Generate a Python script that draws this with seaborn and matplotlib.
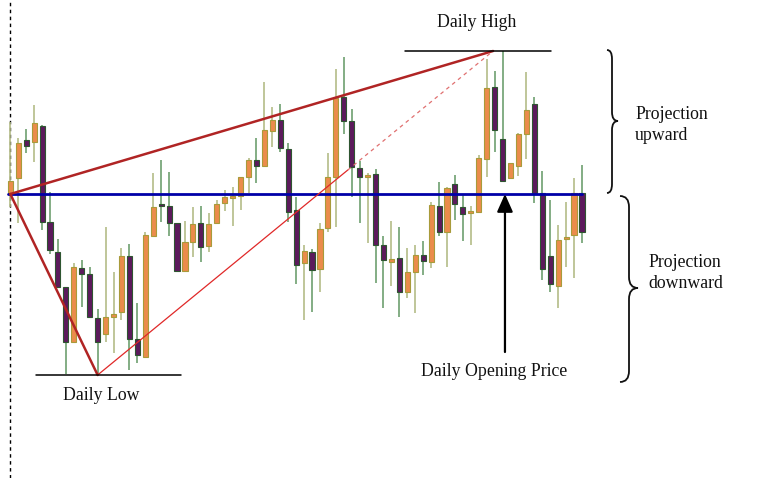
import numpy as np
import pandas as pd
import matplotlib
matplotlib.use("Agg")
import matplotlib.pyplot as plt
from matplotlib.path import Path
from matplotlib.patches import PathPatch
import seaborn as sns

# ---------------- data (price units) ----------------
opens = [206, 222, 260, 258, 274, 178, 148, 113, 58, 132, 126, 82, 66, 83, 88, 144, 61, 43,
         164, 195, 194, 177, 129, 158, 177, 154, 177, 197, 202, 204, 223, 240, 234, 269, 280,
         251, 190, 137, 148, 131, 172, 223, 303, 279, 232, 223, 226, 155, 138, 142, 108, 128,
         145, 138, 194, 168, 216, 193, 187, 188, 241, 313, 261, 222, 234, 266, 296, 207, 144,
         114, 161, 165, 207]
highs = [278, 262, 271, 295, 275, 208, 161, 113, 137, 140, 133, 91, 173, 128, 152, 156, 97, 168,
         227, 240, 228, 177, 179, 193, 194, 187, 200, 210, 213, 223, 242, 262, 318, 293, 296,
         257, 203, 155, 151, 177, 247, 331, 343, 291, 239, 227, 231, 164, 179, 173, 152, 155,
         159, 198, 218, 213, 225, 205, 194, 245, 341, 329, 349, 237, 267, 328, 303, 229, 200,
         175, 198, 222, 235]
lows = [193, 177, 247, 238, 170, 146, 113, 26, 58, 93, 83, 25, 58, 47, 80, 30, 37, 43,
        163, 178, 164, 128, 128, 143, 138, 148, 177, 189, 174, 190, 207, 217, 234, 253, 248,
        178, 116, 80, 88, 108, 168, 173, 266, 203, 177, 157, 117, 92, 114, 83, 102, 87,
        125, 132, 164, 133, 180, 159, 155, 188, 223, 248, 218, 222, 224, 241, 197, 120, 108,
        92, 133, 122, 157]
closes = [219, 257, 254, 277, 178, 150, 113, 58, 133, 126, 83, 58, 83, 86, 144, 61, 45, 165,
          193, 194, 177, 129, 158, 176, 153, 176, 196, 203, 204, 223, 240, 234, 270, 280, 252,
          188, 135, 149, 130, 171, 223, 302, 279, 233, 223, 225, 155, 140, 141, 108, 128, 145,
          139, 195, 168, 212, 196, 186, 189, 242, 312, 270, 219, 237, 266, 290, 207, 131, 116,
          160, 163, 207, 168]

labels_text = {
    "high": "Daily High",
    "low": "Daily Low",
    "open": "Daily Opening Price",
    "up": "Projection\nupward",
    "down": "Projection\ndownward",
}

df = pd.DataFrame({"open": opens, "high": highs, "low": lows, "close": closes})
df["idx"] = np.arange(len(df))
df["bull"] = df["close"] >= df["open"]

# ---------------- style ----------------
sns.set_theme(style="white")
plt.rcParams["font.family"] = ["Liberation Serif", "DejaVu Serif"]

W, H = 769, 478
fig = plt.figure(figsize=(W / 100, H / 100), dpi=100)
fig.patch.set_facecolor("white")
ax = fig.add_axes([0, 0, 1, 1])
step = 7.94
x0px = 10.3
ax.set_xlim(-x0px / step, (W - x0px) / step)
ax.set_ylim(400 - H, 400)
ax.axis("off")

BULL_FILL, BULL_EDGE, BULL_WICK = "#EB8C4B", "#A89B3A", "#B4BC88"
BEAR_FILL, BEAR_EDGE, BEAR_WICK = "#5C1A5C", "#2E5530", "#6EA070"

# wicks
for bull, grp in df.groupby("bull"):
    ax.vlines(grp["idx"], grp["low"], grp["high"],
              color=BULL_WICK if bull else BEAR_WICK, lw=1.2, zorder=2)

# bodies
bw = 0.64
for bull, grp in df.groupby("bull"):
    bottom = np.minimum(grp["open"], grp["close"])
    height = np.maximum(np.abs(grp["close"] - grp["open"]), 1.6)
    ax.bar(grp["idx"], height, bottom=bottom, width=bw,
           color=BULL_FILL if bull else BEAR_FILL,
           edgecolor=BULL_EDGE if bull else BEAR_EDGE, linewidth=0.8, zorder=3)

# ---------------- guide lines ----------------
open_px = opens[0]
i_low = int(np.argmin(lows))
low_val = lows[i_low]
high_val = max(highs)
high_anchor_x = 60.8

# vertical dotted line at first candle
ax.plot([0, 0], [400 - H, 400], color="black", lw=1.0, ls=(0, (2.5, 2.5)), zorder=1)

# blue opening line
sns.lineplot(x=[-0.3, 72.0], y=[open_px, open_px], color="#0000A8", lw=2.0,
             ax=ax, zorder=5, legend=False)

# red projection lines
red = "#B02424"
sns.lineplot(x=[0, i_low], y=[open_px, low_val], color=red, lw=1.8, ax=ax, zorder=6,
             legend=False, sort=False)
sns.lineplot(x=[0, high_anchor_x], y=[open_px, high_val], color=red, lw=1.8, ax=ax,
             zorder=6, legend=False, sort=False)
# thin line from low to high: solid then dashed
mid_x = 42.5
mid_y = low_val + (high_val - low_val) * (mid_x - i_low) / (high_anchor_x - i_low)
ax.plot([i_low, mid_x], [low_val, mid_y], color="#E02828", lw=0.9, zorder=6)
ax.plot([mid_x, high_anchor_x], [mid_y, high_val], color="#E07070", lw=0.9,
        ls=(0, (3, 3)), zorder=6)

# daily high / low horizontal lines
ax.plot([49.7, 68.1], [high_val + 0.5, high_val + 0.5], color="black", lw=1.1, zorder=6)
ax.plot([3.25, 21.5], [low_val, low_val], color="black", lw=1.1, zorder=6)

# arrow to the opening price
ax.annotate("", xy=(62.3, open_px), xytext=(62.3, 48),
            arrowprops=dict(arrowstyle="-|>,head_length=0.9,head_width=0.4",
                            color="black", lw=1.6, shrinkA=0, shrinkB=0), zorder=7)

# ---------------- overlay in pixel coordinates for texts & braces ----------------
ov = fig.add_axes([0, 0, 1, 1], facecolor="none")
ov.set_xlim(0, W)
ov.set_ylim(H, 0)
ov.axis("off")

fs = 12.8
ov.text(477, 22, labels_text["high"], ha="center", va="center", fontsize=fs, color="#111111")
ov.text(101, 395, labels_text["low"], ha="center", va="center", fontsize=fs, color="#111111")
ov.text(494, 371, labels_text["open"], ha="center", va="center", fontsize=fs, color="#111111")
ov.text(635, 125, labels_text["up"], ha="left", va="center", fontsize=fs, color="#111111",
        linespacing=1.25)
ov.text(648, 273, labels_text["down"], ha="left", va="center", fontsize=fs, color="#111111",
        linespacing=1.25)


def brace(axis, x0, xm, xt, yt, ytip, yb, r=10):
    verts = [(x0, yt), (xm, yt), (xm, yt + r),
             (xm, ytip - r), (xm, ytip), (xt, ytip),
             (xm, ytip), (xm, ytip + r),
             (xm, yb - r), (xm, yb), (x0, yb)]
    codes = [Path.MOVETO, Path.CURVE3, Path.CURVE3,
             Path.LINETO, Path.CURVE3, Path.CURVE3,
             Path.CURVE3, Path.CURVE3,
             Path.LINETO, Path.CURVE3, Path.CURVE3]
    axis.add_patch(PathPatch(Path(verts, codes), fill=False, lw=1.3, color="#111111"))


brace(ov, 607, 612, 618, 50, 121, 193, r=9)
brace(ov, 620, 629, 638, 196, 288, 382, r=11)

fig.savefig("out.png", dpi=100, facecolor="white")
